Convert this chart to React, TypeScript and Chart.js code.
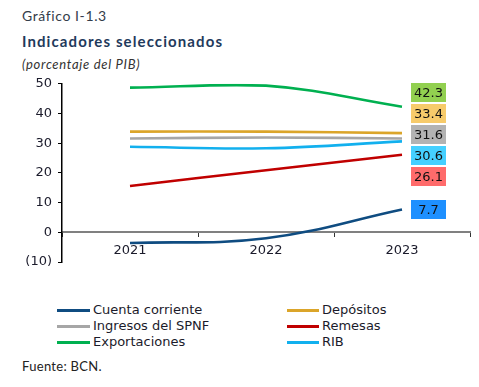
import React, { useEffect, useRef } from "react";
import { Chart, registerables } from "chart.js";

Chart.register(...registerables);

const years = ["2021", "2022", "2023"];
const cuentaCorriente = [-3.6, -2.0, 7.7];
const depositos = [33.9, 33.9, 33.4];
const ingresosSPNF = [31.6, 31.9, 31.6];
const remesas = [15.6, 20.9, 26.1];
const exportaciones = [48.7, 49.4, 42.3];
const rib = [28.8, 28.3, 30.6];
const yTicks = [-10, 0, 10, 20, 30, 40, 50];

const seriesNames = [
  "Cuenta corriente",
  "Depósitos",
  "Ingresos del SPNF",
  "Remesas",
  "Exportaciones",
  "RIB",
];
const seriesData = [cuentaCorriente, depositos, ingresosSPNF, remesas, exportaciones, rib];
const lineColors = ["#0f4c81", "#dba52a", "#a6a6a6", "#c00000", "#00b050", "#12b0ee"];
const labelColors = ["#1e90ff", "#f7cb6b", "#b3b3b3", "#ff6b6b", "#92d050", "#45d0ff"];

const TEXT = "#1b1b2b";
const AXIS_FONT = "'DejaVu Sans', Verdana, sans-serif";
const TITLE_FONT = "Lato, 'Open Sans', sans-serif";

const endLabels = {
  id: "endLabels",
  afterDatasetsDraw(chart: any) {
    const ctx = chart.ctx;
    const xs = chart.scales.x;
    const ys = chart.scales.y;
    const last = years.length - 1;
    const x = xs.getPixelForValue(last) + 9;
    const w = 35;
    const h = 19;
    const gap = 2;
    const pitch = h + gap;
    const items = chart.data.datasets.map((ds: any, i: number) => ({
      v: ds.data[last],
      y: ys.getPixelForValue(ds.data[last]),
      color: labelColors[i],
    }));
    items.sort((a: any, b: any) => a.y - b.y);
    let clusters = items.map((it: any) => ({ members: [it], center: it.y }));
    const top = (c: any) => c.center - (c.members.length * pitch - gap) / 2;
    const bottom = (c: any) => c.center + (c.members.length * pitch - gap) / 2;
    let merged = true;
    while (merged) {
      merged = false;
      for (let i = 0; i < clusters.length - 1; i++) {
        if (bottom(clusters[i]) + gap > top(clusters[i + 1])) {
          const members = clusters[i].members.concat(clusters[i + 1].members);
          const center = members.reduce((s: number, m: any) => s + m.y, 0) / members.length;
          clusters.splice(i, 2, { members, center });
          merged = true;
          break;
        }
      }
    }
    ctx.save();
    ctx.font = `13px ${AXIS_FONT}`;
    ctx.textAlign = "center";
    ctx.textBaseline = "middle";
    clusters.forEach((c: any) => {
      const n = c.members.length;
      c.members.forEach((m: any, k: number) => {
        const cy = c.center + (k - (n - 1) / 2) * pitch;
        ctx.fillStyle = m.color;
        ctx.fillRect(x, Math.round(cy - h / 2), w, h);
        ctx.fillStyle = "#111";
        ctx.fillText(m.v.toFixed(1), x + w / 2, cy + 1);
      });
    });
    ctx.restore();
  },
};

function ChartCanvas() {
  const ref = useRef<HTMLCanvasElement | null>(null);
  useEffect(() => {
    if (!ref.current) return;
    const chart = new Chart(ref.current, {
      type: "line",
      data: {
        labels: years,
        datasets: seriesData.map((d, i) => ({
          label: seriesNames[i],
          data: d,
          borderColor: lineColors[i],
          backgroundColor: lineColors[i],
          borderWidth: 2.6,
          pointRadius: 0,
          tension: 0.4,
          fill: false,
        })),
      },
      options: {
        animation: false,
        responsive: false,
        maintainAspectRatio: false,
        layout: { padding: { top: 13, bottom: 20, left: 0, right: 9 } },
        plugins: {
          legend: { display: false },
          tooltip: { enabled: false },
        },
        scales: {
          x: {
            type: "category",
            offset: true,
            position: { y: 0 } as any,
            border: { display: true, color: "#808080", width: 2 },
            grid: {
              offset: true,
              drawOnChartArea: false,
              drawTicks: true,
              tickLength: 4,
              color: "#333",
            },
            ticks: {
              color: TEXT,
              font: { family: AXIS_FONT, size: 13 },
              padding: 7,
              maxRotation: 0,
            },
          },
          y: {
            min: -10,
            max: 50,
            position: "left",
            afterFit: (s: any) => {
              s.width = 62;
            },
            afterBuildTicks: (s: any) => {
              s.ticks = yTicks.map((v) => ({ value: v }));
            },
            border: { display: true, color: "#000", width: 1.5 },
            grid: {
              drawOnChartArea: false,
              drawTicks: true,
              tickLength: 4,
              tickColor: "#000",
            },
            ticks: {
              color: TEXT,
              font: { family: AXIS_FONT, size: 13 },
              padding: 6,
              callback: (v: any) => (v < 0 ? `(${-v})` : `${v}`),
            },
          },
        },
      },
      plugins: [endLabels],
    });
    return () => chart.destroy();
  }, []);
  return (
    <canvas
      ref={ref}
      width={479}
      height={212}
      style={{ position: "absolute", left: 0, top: 70, width: 479, height: 212 }}
    />
  );
}

export default function App() {
  const legendRows = [
    [0, 1],
    [2, 3],
    [4, 5],
  ];
  return (
    <div
      style={{
        position: "absolute",
        left: 0,
        top: 0,
        width: 479,
        height: 387,
        background: "#fff",
        overflow: "hidden",
      }}
    >
      <div
        style={{
          position: "absolute",
          left: 22,
          top: 7,
          fontFamily: TITLE_FONT,
          fontSize: 14,
          letterSpacing: 0.6,
          color: "#333c4a",
          whiteSpace: "nowrap",
        }}
      >
        Gráfico I-1.3
      </div>
      <div
        style={{
          position: "absolute",
          left: 22,
          top: 32,
          fontFamily: TITLE_FONT,
          fontSize: 15,
          fontWeight: 700,
          letterSpacing: 1.1,
          color: "#1f3a5c",
          whiteSpace: "nowrap",
        }}
      >
        Indicadores seleccionados
      </div>
      <div
        style={{
          position: "absolute",
          left: 22,
          top: 56,
          fontFamily: TITLE_FONT,
          fontSize: 13,
          fontStyle: "italic",
          letterSpacing: 0.7,
          color: "#333",
          whiteSpace: "nowrap",
        }}
      >
        (porcentaje del PIB)
      </div>
      <ChartCanvas />
      {legendRows.map((row, r) =>
        row.map((si, c) => (
          <div
            key={si}
            style={{
              position: "absolute",
              left: c === 0 ? 57 : 287,
              top: 302 + r * 16,
              height: 16,
              display: "flex",
              alignItems: "center",
              whiteSpace: "nowrap",
            }}
          >
            <span
              style={{
                display: "inline-block",
                width: c === 0 ? 33 : 32,
                height: 3,
                background: lineColors[si],
                marginRight: 3,
              }}
            />
            <span
              style={{
                fontFamily: AXIS_FONT,
                fontSize: 13,
                color: TEXT,
                lineHeight: "16px",
              }}
            >
              {seriesNames[si]}
            </span>
          </div>
        ))
      )}
      <div
        style={{
          position: "absolute",
          left: 22,
          top: 358,
          fontFamily: TITLE_FONT,
          fontSize: 13,
          letterSpacing: 0.3,
          color: "#222",
          whiteSpace: "nowrap",
        }}
      >
        Fuente: BCN.
      </div>
    </div>
  );
}
